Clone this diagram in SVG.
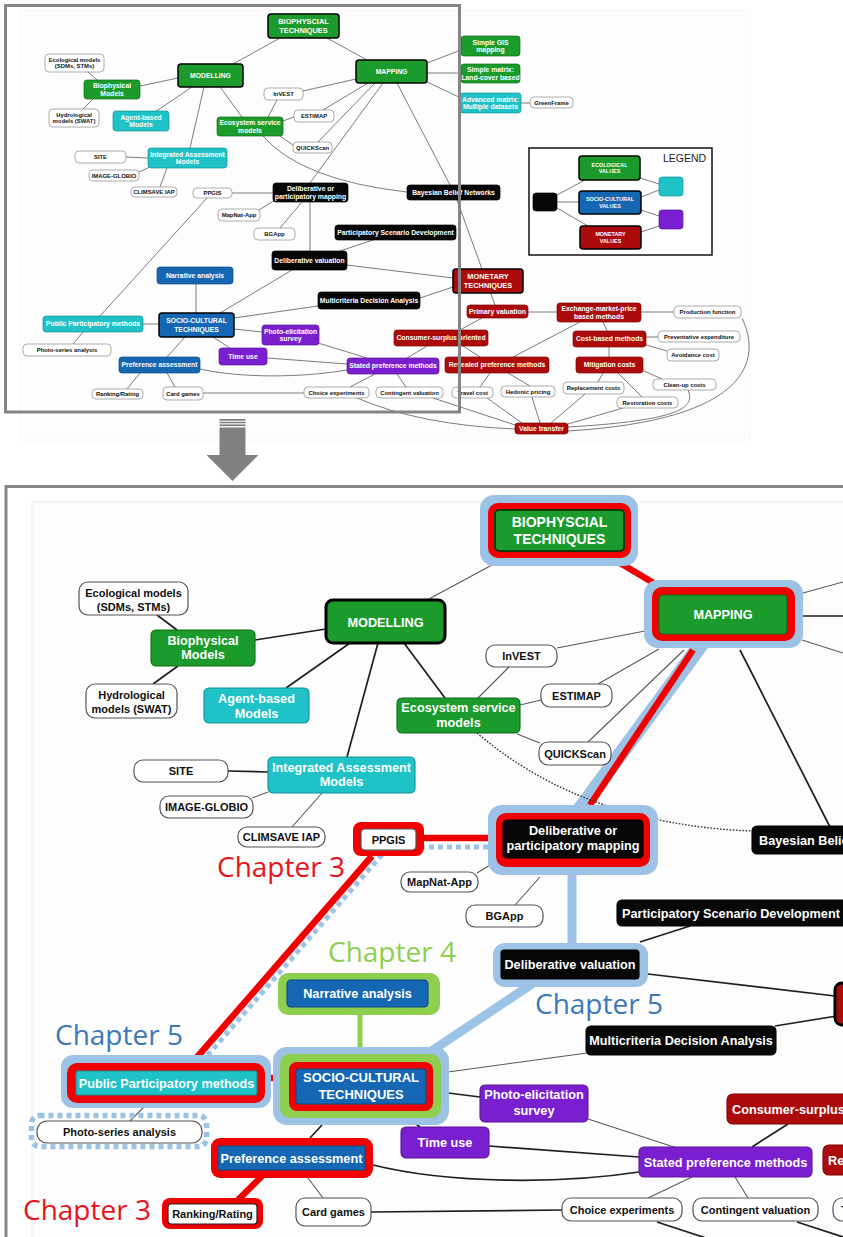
<svg xmlns="http://www.w3.org/2000/svg" width="843" height="1237" viewBox="0 0 843 1237">
<defs>
<style>
.fg{fill:#1b9b2c;stroke:#0f6b1a}
.fc{fill:#1fc2c6;stroke:#129296}
.fb{fill:#1567b3;stroke:#0d4a86}
.fp{fill:#7a1fd0;stroke:#5a1498}
.fr{fill:#ad0b0b;stroke:#7d0505}
.fk{fill:#070707;stroke:#000}
.fw{fill:#fff;stroke:#8a8a8a}
#overview rect{stroke-width:.7}
#overview .main{stroke:#000;stroke-width:1.5}
#detail rect{stroke-width:1.1}
#detail .fw{stroke:#555;stroke-width:1.2}
#detail .main{stroke:#000;stroke-width:3}
.hb{fill:#9cc3e6}
.hr{fill:#f00000}
.hg{fill:#8fcf4f}
.t{font-family:"Liberation Sans",Arial,Helvetica,sans-serif;font-weight:bold;text-anchor:middle}
.ts{text-anchor:start}
.w{fill:#fff}
.k{fill:#111}
.ma{font-size:6.8px}
.mb{font-size:5.9px}
.mc{font-size:7.4px}
.ml{font-size:5.4px}
.da{font-size:12.7px}
.db{font-size:11px}
.dc{font-size:14px}
.ch{font-family:"Open Sans","Liberation Sans",sans-serif;font-size:28px}
.cm{stroke:#6d6d6d;stroke-width:.9;fill:none}
.cd{stroke:#1e1e1e;stroke-width:1.7;fill:none}
.cg{stroke:#5a5a5a;stroke-width:1.1;fill:none}
.cdot{stroke:#333;stroke-width:1.4;stroke-dasharray:1.6 1.6;fill:none}
.xr{stroke:#f00000;stroke-width:6.5;fill:none}
.xb{stroke:#9cc3e6;fill:none}
.xbd{stroke:#9cc3e6;stroke-width:5;stroke-dasharray:5 4;fill:none}
.xg{stroke:#8fcf4f;stroke-width:5;fill:none}
.frame{fill:none;stroke:#858585;stroke-width:3}
</style>
<clipPath id="detailClip"><rect x="7" y="488" width="836" height="749"/></clipPath>
</defs>
<rect x="0" y="0" width="843" height="1237" fill="#fff"/>

<!-- ===== overview map ===== -->
<g id="overview">
<rect x="20" y="10" width="730" height="430" fill="#fdfdfd" stroke="#f1f1f1" stroke-width="1"/>
<g id="overview-connectors">
<path class="cm" d="M280,38L233,64M327,38L367,60M178,78L140,86M88,72L97,80M93,99L83,109M192,87L155,112M204,87L190,148M220,87L242,117M427,63L461,50M427,73L461,73M427,82L461,98M521,103L530,103M356,79L303,91M277,100L268,117M368,83L323,110M294,117L283,121M375,83L318,142M280,136L293,145M383,83L310,183M397,83L450,185M126,157L148,158M139,172L150,167M167,168L160,187M232,193L273,193M207,198L100,316M275,200L259,210M302,202L280,228M310,202L310,251M340,251L373,240M347,265L453,278M292,270L220,313M457,200L495,305M420,298L453,287M318,306L234,318M196,284L196,313M143,324L159,324M83,332L73,344M234,329L262,332M213,337L230,348M185,337L167,357M140,373L127,389M167,373L175,387M267,358L347,364M318,343L367,358M203,393L304,393M375,374L350,387M397,374L406,387M407,358L427,346M460,330L482,318M463,346L480,357M528,312L557,312M580,322L513,357M490,373L480,387M508,373L530,386M641,312L674,312M603,322L607,331M646,337L658,337M646,345L667,351M609,347L609,357M603,373L598,382M618,373L642,397M642,370L662,379M433,398L515,425M487,398L522,423M532,397L540,423M585,394L551,423M623,408L568,424"/>
<path class="cm" d="M262,135Q300,180 407,192"/>
<path class="cm" d="M200,369C240,378 300,378 347,370"/>
<path class="cm" d="M357,398Q420,425 515,429"/>
<path class="cm" d="M688,390C694,405 690,420 568,427"/>
<path class="cm" d="M742,318C762,360 750,420 568,431"/>
</g>
<g id="ov-biophysical-techniques"><rect class="fg main" x="268" y="14" width="71" height="24" rx="3"/><text class="t w mc" x="303.5" y="24.4">BIOPHYSCIAL<tspan x="303.5" y="32.8">TECHNIQUES</tspan></text></g>
<g id="ov-mapping"><rect class="fg main" x="356" y="60" width="71" height="23" rx="3"/><text class="t w ma" x="391.5" y="73.9">MAPPING</text></g>
<g id="ov-modelling"><rect class="fg main" x="178" y="64" width="65" height="23" rx="3"/><text class="t w ma" x="210.5" y="77.9">MODELLING</text></g>
<g id="ov-simple-gis"><rect class="fg" x="461" y="36" width="59" height="20" rx="3"/><text class="t w ma" x="490.5" y="44.6">Simple GIS<tspan x="490.5" y="52.2">mapping</tspan></text></g>
<g id="ov-simple-matrix"><rect class="fg" x="461" y="64" width="59" height="19" rx="3"/><text class="t w ma" x="490.5" y="72.1">Simple matrix:<tspan x="490.5" y="79.7">Land-cover based</tspan></text></g>
<g id="ov-advanced-matrix"><rect class="fc" x="460" y="93" width="61" height="20" rx="3"/><text class="t w ma" x="490.5" y="101.6">Advanced matrix:<tspan x="490.5" y="109.2">Multiple datasets</tspan></text></g>
<g id="ov-greenframe"><rect class="fw" x="530" y="97" width="43" height="11" rx="4"/><text class="t k mb" x="551.5" y="104.6">GreenFrame</text></g>
<g id="ov-ecological-models"><rect class="fw" x="45" y="54" width="59" height="18" rx="4"/><text class="t k mb" x="74.5" y="61.8">Ecological models<tspan x="74.5" y="68.4">(SDMs, STMs)</tspan></text></g>
<g id="ov-biophysical-models"><rect class="fg" x="84" y="80" width="56" height="19" rx="3"/><text class="t w ma" x="112" y="88.1">Biophysical<tspan x="112" y="95.7">Models</tspan></text></g>
<g id="ov-hydrological-models"><rect class="fw" x="49" y="109" width="50" height="18" rx="4"/><text class="t k mb" x="74" y="116.8">Hydrological<tspan x="74" y="123.4">models (SWAT)</tspan></text></g>
<g id="ov-agent-based"><rect class="fc" x="113" y="111" width="56" height="20" rx="3"/><text class="t w ma" x="141" y="119.6">Agent-based<tspan x="141" y="127.2">Models</tspan></text></g>
<g id="ov-ecosystem-service"><rect class="fg" x="217" y="117" width="66" height="19" rx="3"/><text class="t w ma" x="250" y="125.1">Ecosystem service<tspan x="250" y="132.7">models</tspan></text></g>
<g id="ov-invest"><rect class="fw" x="264" y="88" width="39" height="12" rx="4"/><text class="t k mb" x="283.5" y="96.1">InVEST</text></g>
<g id="ov-estimap"><rect class="fw" x="294" y="110" width="40" height="12" rx="4"/><text class="t k mb" x="314" y="118.1">ESTIMAP</text></g>
<g id="ov-quickscan"><rect class="fw" x="293" y="142" width="39" height="11" rx="4"/><text class="t k mb" x="312.5" y="149.6">QUICKScan</text></g>
<g id="ov-integrated-assessment"><rect class="fc" x="148" y="148" width="79" height="20" rx="3"/><text class="t w ma" x="187.5" y="156.6">Integrated Assessment<tspan x="187.5" y="164.2">Models</tspan></text></g>
<g id="ov-site"><rect class="fw" x="75" y="151" width="51" height="12" rx="4"/><text class="t k mb" x="100.5" y="159.1">SITE</text></g>
<g id="ov-image-globio"><rect class="fw" x="89" y="170" width="50" height="11" rx="4"/><text class="t k mb" x="114" y="177.6">IMAGE-GLOBIO</text></g>
<g id="ov-climsave"><rect class="fw" x="131" y="187" width="46" height="10" rx="4"/><text class="t k mb" x="154" y="194.1">CLIMSAVE IAP</text></g>
<g id="ov-ppgis"><rect class="fw" x="193" y="188" width="39" height="10" rx="4"/><text class="t k mb" x="212.5" y="195.1">PPGIS</text></g>
<g id="ov-deliberative-mapping"><rect class="fk" x="273" y="183" width="75" height="19" rx="3"/><text class="t w ma" x="310.5" y="191.1">Deliberative or<tspan x="310.5" y="198.7">participatory mapping</tspan></text></g>
<g id="ov-bayesian"><rect class="fk" x="407" y="185" width="93" height="15" rx="3"/><text class="t w ma" x="453.5" y="194.9">Bayesian Belief Networks</text></g>
<g id="ov-mapnat"><rect class="fw" x="218" y="209" width="42" height="12" rx="4"/><text class="t k mb" x="239" y="217.1">MapNat-App</text></g>
<g id="ov-bgapp"><rect class="fw" x="254" y="228" width="41" height="12" rx="4"/><text class="t k mb" x="274.5" y="236.1">BGApp</text></g>
<g id="ov-scenario"><rect class="fk" x="335" y="225" width="121" height="15" rx="3"/><text class="t w ma" x="395.5" y="234.9">Participatory Scenario Development</text></g>
<g id="ov-deliberative-valuation"><rect class="fk" x="272" y="251" width="75" height="19" rx="3"/><text class="t w ma" x="309.5" y="262.9">Deliberative valuation</text></g>
<g id="ov-monetary"><rect class="fr main" x="453" y="269" width="70" height="24" rx="3"/><text class="t w mc" x="488" y="279.4">MONETARY<tspan x="488" y="288">TECHNIQUES</tspan></text></g>
<g id="ov-mcda"><rect class="fk" x="318" y="292" width="102" height="17" rx="3"/><text class="t w ma" x="369" y="302.9">Multicriteria Decision Analysis</text></g>
<g id="ov-narrative"><rect class="fb" x="157" y="267" width="76" height="17" rx="3"/><text class="t w ma" x="195" y="277.9">Narrative analysis</text></g>
<g id="ov-socio-cultural"><rect class="fb main" x="159" y="313" width="75" height="24" rx="3"/><text class="t w ma" x="196.5" y="323.4">SOCIO-CULTURAL<tspan x="196.5" y="331.6">TECHNIQUES</tspan></text></g>
<g id="ov-public-participatory"><rect class="fc" x="43" y="316" width="100" height="16" rx="3"/><text class="t w ma" x="93" y="326.4">Public Participatory methods</text></g>
<g id="ov-photo-series"><rect class="fw" x="23" y="344" width="88" height="12" rx="4"/><text class="t k mb" x="67" y="352.1">Photo-series analysis</text></g>
<g id="ov-photo-elicitation"><rect class="fp" x="262" y="325" width="57" height="20" rx="3"/><text class="t w ma" x="290.5" y="333.6">Photo-elicitation<tspan x="290.5" y="341.2">survey</tspan></text></g>
<g id="ov-time-use"><rect class="fp" x="219" y="348" width="48" height="17" rx="3"/><text class="t w ma" x="243" y="358.9">Time use</text></g>
<g id="ov-preference-assessment"><rect class="fb" x="119" y="357" width="81" height="16" rx="3"/><text class="t w ma" x="159.5" y="367.4">Preference assessment</text></g>
<g id="ov-ranking"><rect class="fw" x="92" y="389" width="51" height="10" rx="4"/><text class="t k mb" x="117.5" y="396.1">Ranking/Rating</text></g>
<g id="ov-card-games"><rect class="fw" x="163" y="387" width="40" height="13" rx="4"/><text class="t k mb" x="183" y="395.6">Card games</text></g>
<g id="ov-stated-preference"><rect class="fp" x="347" y="358" width="92" height="16" rx="3"/><text class="t w ma" x="393" y="368.4">Stated preference methods</text></g>
<g id="ov-choice"><rect class="fw" x="304" y="387" width="65" height="11" rx="4"/><text class="t k mb" x="336.5" y="394.6">Choice experiments</text></g>
<g id="ov-contingent"><rect class="fw" x="376" y="387" width="67" height="11" rx="4"/><text class="t k mb" x="409.5" y="394.6">Contingent valuation</text></g>
<g id="ov-travel"><rect class="fw" x="452" y="387" width="41" height="11" rx="4"/><text class="t k mb" x="472.5" y="394.6">Travel cost</text></g>
<g id="ov-hedonic"><rect class="fw" x="501" y="386" width="54" height="11" rx="4"/><text class="t k mb" x="528" y="393.6">Hedonic pricing</text></g>
<g id="ov-consumer-surplus"><rect class="fr" x="394" y="330" width="94" height="16" rx="3"/><text class="t w ma" x="441" y="340.4">Consumer-surplus oriented</text></g>
<g id="ov-revealed"><rect class="fr" x="445" y="357" width="104" height="16" rx="3"/><text class="t w ma" x="497" y="367.4">Revealed preference  methods</text></g>
<g id="ov-primary"><rect class="fr" x="467" y="305" width="61" height="13" rx="3"/><text class="t w ma" x="497.5" y="313.9">Primary valuation</text></g>
<g id="ov-exchange"><rect class="fr" x="557" y="303" width="84" height="19" rx="3"/><text class="t w ma" x="599" y="311.1">Exchange-market-price<tspan x="599" y="318.7">based methods</tspan></text></g>
<g id="ov-production"><rect class="fw" x="674" y="306" width="67" height="12" rx="4"/><text class="t k mb" x="707.5" y="314.1">Production  function</text></g>
<g id="ov-cost-based"><rect class="fr" x="573" y="331" width="73" height="16" rx="3"/><text class="t w ma" x="609.5" y="341.4">Cost-based methods</text></g>
<g id="ov-preventative"><rect class="fw" x="658" y="331" width="82" height="11" rx="4"/><text class="t k mb" x="699" y="338.6">Preventative expenditure</text></g>
<g id="ov-avoidance"><rect class="fw" x="667" y="349" width="52" height="12" rx="4"/><text class="t k mb" x="693" y="357.1">Avoidance cost</text></g>
<g id="ov-mitigation"><rect class="fr" x="576" y="357" width="67" height="16" rx="3"/><text class="t w ma" x="609.5" y="367.4">Mitigation costs</text></g>
<g id="ov-replacement"><rect class="fw" x="563" y="382" width="61" height="12" rx="4"/><text class="t k mb" x="593.5" y="390.1">Replacement costs</text></g>
<g id="ov-cleanup"><rect class="fw" x="653" y="379" width="63" height="11" rx="4"/><text class="t k mb" x="684.5" y="386.6">Clean-up costs</text></g>
<g id="ov-restoration"><rect class="fw" x="617" y="397" width="61" height="11" rx="4"/><text class="t k mb" x="647.5" y="404.6">Restoration costs</text></g>
<g id="ov-value-transfer"><rect class="fr" x="515" y="423" width="53" height="11" rx="3"/><text class="t w ma" x="541.5" y="430.9">Value transfer</text></g>

<g id="legend">
<rect x="529" y="148" width="183" height="107" fill="#fff" stroke="#111" style="stroke-width:1.5"/>
<path class="cm" d="M557,195L585,180M557,202L579,202M557,208L588,226M640,178L659,184M641,197L659,190M641,210L659,216M641,232L659,226"/>
<text x="663" y="162" font-family="Liberation Sans, Arial, sans-serif" font-size="10.5" fill="#222">LEGEND</text>
<rect class="fg main" x="579" y="156" width="61" height="24" rx="3"/><text class="t w ml" x="609.5" y="166.7">ECOLOGICAL<tspan x="609.5" y="173.1">VALUES</tspan></text>
<rect class="fb main" x="579" y="191" width="62" height="23" rx="3"/><text class="t w ml" x="610" y="201.2">SOCIO-CULTURAL<tspan x="610" y="207.6">VALUES</tspan></text>
<rect class="fr main" x="580" y="226" width="61" height="23" rx="3"/><text class="t w ml" x="610.5" y="236.2">MONETARY<tspan x="610.5" y="242.6">VALUES</tspan></text>
<rect class="fk" x="533" y="193" width="24" height="18" rx="3"/>
<rect class="fc" x="659" y="177" width="24" height="19" rx="3"/>
<rect class="fp" x="659" y="210" width="24" height="19" rx="3"/>
</g>
</g>
<!-- frame around the overview area -->
<rect class="frame" x="5.5" y="5.5" width="454" height="406.5"/>

<!-- ===== zoom arrow ===== -->
<g id="zoom-arrow" fill="#808080">
<rect x="219.5" y="419" width="26" height="1.7"/>
<rect x="219.5" y="421.8" width="26" height="1.5"/>
<rect x="219.5" y="424.4" width="26" height="1.7"/>
<path d="M219.5,427.5H245.5V455H258.5L232.5,481L206.5,455H219.5Z"/>
</g>

<!-- ===== detail view ===== -->
<g id="detail" clip-path="url(#detailClip)">
<rect x="32" y="502" width="830" height="760" fill="#fdfdfd" stroke="#f1f1f1" stroke-width="1"/>
<g id="detail-highlights">
<path class="xr" d="M620,563L662,588"/>
<path class="xb" stroke-width="15" d="M703,642L578,812"/>
<path class="xr" d="M693,650L590,805"/>
<path class="xr" d="M420,838L500,838"/>
<path class="xbd" d="M488,847H412L385,851L201,1063"/>
<path class="xr" d="M372,856L192,1063"/>
<path class="xb" stroke-width="9" d="M572,870V946"/>
<path class="xb" stroke-width="9" d="M532,984L430,1052"/>
<path class="xg" d="M360,1012V1056"/>
<path class="xr" d="M262,1078H292"/>
<path class="xr" d="M262,1176L238,1200"/>
</g>
<g id="detail-connectors">
<path class="cg" d="M492,565L427,600M645,631L557,648M509,667L478,698M659,649L598,684M541,700L520,705M684,650L588,742M517,734L540,743M803,593L843,582M802,640L843,653M252,798L268,792M322,793L292,827M490,865L477,873M540,877L515,905M587,1053L448,1072M145,1106L130,1121M308,1178L323,1198M588,1119L677,1148M692,1177L648,1198M735,1177L748,1198"/>
<path class="cd" d="M326,629L255,640M157,615L177,630M178,666L153,684M350,643L286,688M378,643L347,757M404,643L445,698M740,650L830,827M640,942L690,926M648,974L835,996M775,1026L837,1016M448,1093L480,1097M408,1118L420,1127M322,1125L310,1138M489,1146L639,1157M371,1212L562,1210M752,1147L788,1124M657,1222L712,1240M797,1222L843,1237"/>
<path class="cd" stroke-width="2.2" d="M803,616L843,616M228,771L268,772"/>
<path class="cd" d="M373,1165C450,1184 560,1184 639,1172"/>
<path class="cdot" d="M477,733Q585,825 753,831"/>
</g>

<g id="d-biophysical-techniques"><rect class="hb" x="480" y="495" width="158" height="71" rx="14"/><rect class="hr" x="488" y="503" width="143" height="55" rx="10"/><rect class="fg" x="495" y="510" width="129" height="41" rx="4" style="stroke:#0b3d10;stroke-width:2"/><text class="t w dc" x="559.5" y="527">BIOPHYSCIAL<tspan x="559.5" y="544">TECHNIQUES</tspan></text></g>
<g id="d-mapping"><rect class="hb" x="644" y="580" width="159" height="68" rx="14"/><rect class="hr" x="652" y="587" width="143" height="54" rx="10"/><rect class="fg" x="659" y="595" width="128" height="39" rx="4"/><text class="t w da" x="723" y="619">MAPPING</text></g>
<g id="d-modelling"><rect class="fg main" x="326" y="600" width="119" height="43" rx="7"/><text class="t w da" x="385.5" y="627">MODELLING</text></g>
<g id="d-ecological-models"><rect class="fw" x="79" y="582" width="109" height="33" rx="9"/><text class="t k db" x="133.5" y="597">Ecological models<tspan x="133.5" y="611">(SDMs, STMs)</tspan></text></g>
<g id="d-biophysical-models"><rect class="fg" x="151" y="630" width="104" height="36" rx="5"/><text class="t w da" x="203" y="645">Biophysical<tspan x="203" y="659">Models</tspan></text></g>
<g id="d-hydrological-models"><rect class="fw" x="86" y="684" width="91" height="34" rx="9"/><text class="t k db" x="131.5" y="699">Hydrological<tspan x="131.5" y="713">models (SWAT)</tspan></text></g>
<g id="d-agent-based"><rect class="fc" x="204" y="688" width="105" height="35" rx="5"/><text class="t w da" x="256.5" y="703">Agent-based<tspan x="256.5" y="718">Models</tspan></text></g>
<g id="d-ecosystem-service"><rect class="fg" x="397" y="698" width="123" height="35" rx="5"/><text class="t w da" x="458.5" y="712">Ecosystem service<tspan x="458.5" y="727">models</tspan></text></g>
<g id="d-invest"><rect class="fw" x="486" y="645" width="71" height="22" rx="9"/><text class="t k db" x="521.5" y="660">InVEST</text></g>
<g id="d-estimap"><rect class="fw" x="541" y="684" width="71" height="23" rx="9"/><text class="t k db" x="576.5" y="699.5">ESTIMAP</text></g>
<g id="d-quickscan"><rect class="fw" x="539" y="742" width="72" height="23" rx="9"/><text class="t k db" x="575" y="757.5">QUICKScan</text></g>
<g id="d-integrated-assessment"><rect class="fc" x="268" y="757" width="147" height="36" rx="5"/><text class="t w da" x="341.5" y="772">Integrated Assessment<tspan x="341.5" y="786">Models</tspan></text></g>
<g id="d-site"><rect class="fw" x="134" y="760" width="94" height="22" rx="9"/><text class="t k db" x="181" y="775">SITE</text></g>
<g id="d-image-globio"><rect class="fw" x="160" y="796" width="93" height="22" rx="9"/><text class="t k db" x="206.5" y="811">IMAGE-GLOBIO</text></g>
<g id="d-climsave"><rect class="fw" x="238" y="827" width="87" height="20" rx="9"/><text class="t k db" x="281.5" y="841">CLIMSAVE IAP</text></g>
<g id="d-ppgis"><rect class="hr" x="353" y="822" width="71" height="34" rx="8"/><rect class="fw" x="361" y="829" width="55" height="21" rx="4"/><text class="t k db" x="388.5" y="843.5">PPGIS</text></g>
<g id="d-deliberative-mapping"><rect class="hb" x="488" y="805" width="170" height="70" rx="14"/><rect class="hr" x="496" y="813" width="154" height="54" rx="10"/><rect class="fk" x="503" y="820" width="140" height="38" rx="4"/><text class="t w da" x="573" y="835">Deliberative or<tspan x="573" y="850">participatory mapping</tspan></text></g>
<g id="d-bayesian"><rect class="fk" x="752" y="826" width="180" height="28" rx="5"/><text class="t w da ts" x="759" y="844.5">Bayesian Belief Networks</text></g>
<g id="d-mapnat"><rect class="fw" x="401" y="872" width="77" height="20" rx="9"/><text class="t k db" x="439.5" y="886">MapNat-App</text></g>
<g id="d-bgapp"><rect class="fw" x="466" y="905" width="77" height="22" rx="9"/><text class="t k db" x="504.5" y="920">BGApp</text></g>
<g id="d-scenario"><rect class="fk" x="617" y="900" width="230" height="26" rx="5"/><text class="t w da ts" x="622" y="917.5">Participatory Scenario Development</text></g>
<g id="d-deliberative-valuation"><rect class="hb" x="493" y="943" width="155" height="44" rx="12"/><rect class="fk" x="501" y="950" width="138" height="29" rx="3"/><text class="t w da" x="570" y="969">Deliberative valuation</text></g>
<g id="d-mcda"><rect class="fk" x="586" y="1026" width="190" height="29" rx="5"/><text class="t w da" x="681" y="1045">Multicriteria Decision Analysis</text></g>
<g id="d-monetary"><rect class="fr main" x="835" y="983" width="60" height="42" rx="7"/></g>
<g id="d-photo-elicitation"><rect class="fp" x="480" y="1085" width="108" height="37" rx="5"/><text class="t w da" x="534" y="1099">Photo-elicitation<tspan x="534" y="1115">survey</tspan></text></g>
<g id="d-consumer-surplus"><rect class="fr" x="727" y="1094" width="200" height="30" rx="6"/><text class="t w da ts" x="732" y="1113.5">Consumer-surplus oriented</text></g>
<g id="d-time-use"><rect class="fp" x="401" y="1127" width="88" height="31" rx="5"/><text class="t w da" x="445" y="1147">Time use</text></g>
<g id="d-stated-preference"><rect class="fp" x="639" y="1147" width="173" height="30" rx="5"/><text class="t w da" x="725.5" y="1166.5">Stated preference methods</text></g>
<g id="d-revealed"><rect class="fr" x="823" y="1145" width="200" height="30" rx="6"/><text class="t w da ts" x="828" y="1164.5">Revealed preference methods</text></g>
<g id="d-choice"><rect class="fw" x="562" y="1198" width="120" height="23" rx="9"/><text class="t k db" x="622" y="1214">Choice experiments</text></g>
<g id="d-contingent"><rect class="fw" x="693" y="1198" width="125" height="23" rx="9"/><text class="t k db" x="755.5" y="1214">Contingent valuation</text></g>
<g id="d-travel"><rect class="fw" x="833" y="1198" width="80" height="23" rx="9"/><text class="t k db ts" x="841" y="1214">Travel cost</text></g>
<g id="d-narrative"><rect class="hg" x="278" y="973" width="162" height="42" rx="10"/><rect class="fb" x="287" y="980" width="141" height="27" rx="4"/><text class="t w da" x="357.5" y="998">Narrative analysis</text></g>
<g id="d-socio-cultural"><rect class="hb" x="273" y="1047" width="176" height="78" rx="14"/><rect class="hg" x="280" y="1054" width="161" height="64" rx="10"/><rect class="hr" x="289" y="1062" width="144" height="49" rx="8"/><rect class="fb" x="296" y="1069" width="130" height="35" rx="3"/><text class="t w" font-size="13" x="361" y="1082">SOCIO-CULTURAL<tspan x="361" y="1099">TECHNIQUES</tspan></text></g>
<g id="d-public-participatory"><rect class="hb" x="61" y="1055" width="210" height="53" rx="12"/><rect class="hr" x="67" y="1063" width="198" height="40" rx="10"/><rect class="fc" x="76" y="1071" width="181" height="24" rx="2"/><text class="t w da" x="166.5" y="1087.5">Public Participatory methods</text></g>
<g id="d-photo-series"><rect x="31.5" y="1115.5" width="175" height="31" rx="8" style="fill:none;stroke:#9cc3e6;stroke-width:5.5;stroke-dasharray:5 4"/><rect class="fw" x="37" y="1121" width="165" height="22" rx="10"/><text class="t k db" x="119.5" y="1136">Photo-series analysis</text></g>
<g id="d-preference-assessment"><rect class="hr" x="211" y="1138" width="162" height="40" rx="9"/><rect class="fb" x="218" y="1146" width="147" height="24" rx="2"/><text class="t w da" x="291.5" y="1162.5">Preference assessment</text></g>
<g id="d-ranking"><rect class="hr" x="162" y="1198" width="101" height="31" rx="8"/><rect class="fw" x="168" y="1204" width="89" height="20" rx="3" style="stroke:#222"/><text class="t k db" x="212.5" y="1218">Ranking/Rating</text></g>
<g id="d-card-games"><rect class="fw" x="296" y="1198" width="75" height="28" rx="9"/><text class="t k db" x="333.5" y="1216">Card games</text></g>

<g id="chapter-labels">
<text class="ch" x="217" y="877" fill="#e8121c">Chapter 3</text>
<text class="ch" x="328" y="962" fill="#8fcf4f">Chapter 4</text>
<text class="ch" x="535" y="1014" fill="#3b78b8">Chapter 5</text>
<text class="ch" x="55" y="1045" fill="#3b78b8">Chapter 5</text>
<text class="ch" x="23" y="1220" fill="#e8121c">Chapter 3</text>
</g>
</g>
<path class="frame" d="M6,1240V486.5H845"/>
</svg>
